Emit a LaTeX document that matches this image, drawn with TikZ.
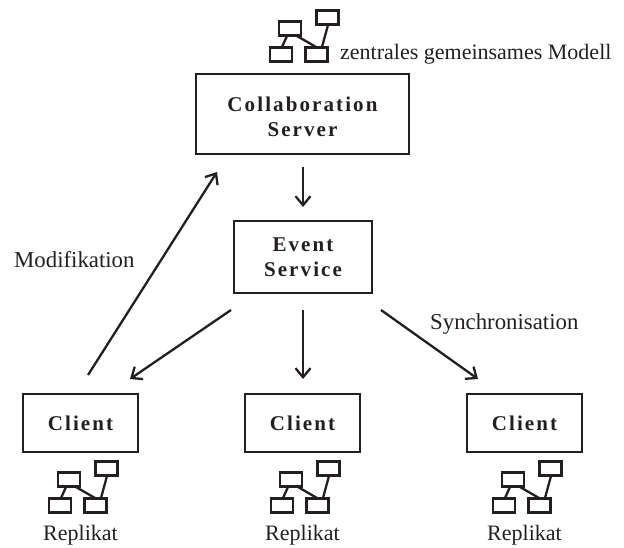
\documentclass[tikz,border=0pt]{standalone}
\usepackage{fontspec}
\setmainfont{Liberation Serif}
\newfontfamily\spacedbold[LetterSpace=10]{Liberation Serif}
\usetikzlibrary{arrows.meta}
\definecolor{ink}{HTML}{231F20}
\tikzset{
  x=1pt,y=-1pt,
  mainbox/.style={draw=ink,line width=2.4pt,minimum width=#1,inner sep=0pt,fill=white,align=center,text=ink,font=\fontsize{21}{25}\selectfont\spacedbold\bfseries},
  smallbox/.style={draw=ink,line width=2.4pt,minimum width=22pt,minimum height=14pt,inner sep=0pt},
  arr/.style={draw=ink,line width=2.3pt,-{Straight Barb[length=9pt,width=15pt,line width=2.3pt]}},
  link/.style={draw=ink,line width=2.3pt},
  lbl/.style={text=ink,font=\fontsize{22}{25}\selectfont,inner sep=0pt},
  lblwide/.style={text=ink,font=\fontsize{22.8}{25}\selectfont,inner sep=0pt},
  pics/model/.style={code={
    \node[smallbox] (-a) at (69,479.5) {};
    \node[smallbox] (-b) at (60,505.5) {};
    \node[smallbox] (-c) at (95.5,505.5) {};
    \node[smallbox] (-d) at (106.5,468.5) {};
    \coordinate (-a1) at (66,487);
    \coordinate (-b1) at (61,498);
    \coordinate (-a2) at (76,487);
    \coordinate (-c1) at (95,498);
    \coordinate (-d1) at (107,476);
    \coordinate (-c2) at (101,498);
    \draw[link] (-a1) -- (-b1);
    \draw[link] (-a2) -- (-c1);
    \draw[link] (-d1) -- (-c2);
  }}
}
\begin{document}
\begin{tikzpicture}
\useasboundingbox (0,0) rectangle (624,548);
\node[mainbox=213pt,minimum height=80pt] (server) at (302.5,114) {};
\node[align=center,inner sep=0pt,text=ink,font=\fontsize{21}{25}\selectfont\spacedbold\bfseries] (servertext) at (302.5,117) {Collaboration\\Server};
\node[mainbox=138pt,minimum height=72pt] (event) at (303,257) {Event\\Service};
\node[mainbox=115pt,minimum height=58pt] (c1) at (80.5,423) {Client};
\node[mainbox=115pt,minimum height=58pt] (c2) at (302.5,423) {Client};
\node[mainbox=115pt,minimum height=58pt] (c3) at (524.5,423) {Client};
\pic (mtop) at (221,-451) {model};
\pic (m1) at (0,0) {model};
\pic (m2) at (222,0) {model};
\pic (m3) at (444,0) {model};
\node[lbl,anchor=base west] (ztext) at (340,60) {zentrales gemeinsames Modell};
\node[lbl,anchor=base] (r1) at (80.5,540) {Replikat};
\node[lbl,anchor=base] (r2) at (302.5,540) {Replikat};
\node[lbl,anchor=base] (r3) at (524.5,540) {Replikat};
\node[lblwide,anchor=base west] (mod) at (14,268) {Modifikation};
\node[lblwide,anchor=base west] (syn) at (430,329) {Synchronisation};
\coordinate (s1) at (303,167);
\coordinate (s2) at (303,207);
\coordinate (a1) at (88,375);
\coordinate (a2) at (217,172);
\coordinate (l1) at (231,310);
\coordinate (l2) at (130,379);
\coordinate (m1a) at (303,310);
\coordinate (m2a) at (303,379);
\coordinate (r1a) at (381,310);
\coordinate (r2a) at (478,379);
\draw[arr] (s1) -- (s2);
\draw[arr] (a1) -- (a2);
\draw[arr] (l1) -- (l2);
\draw[arr] (m1a) -- (m2a);
\draw[arr] (r1a) -- (r2a);
\end{tikzpicture}
\end{document}
